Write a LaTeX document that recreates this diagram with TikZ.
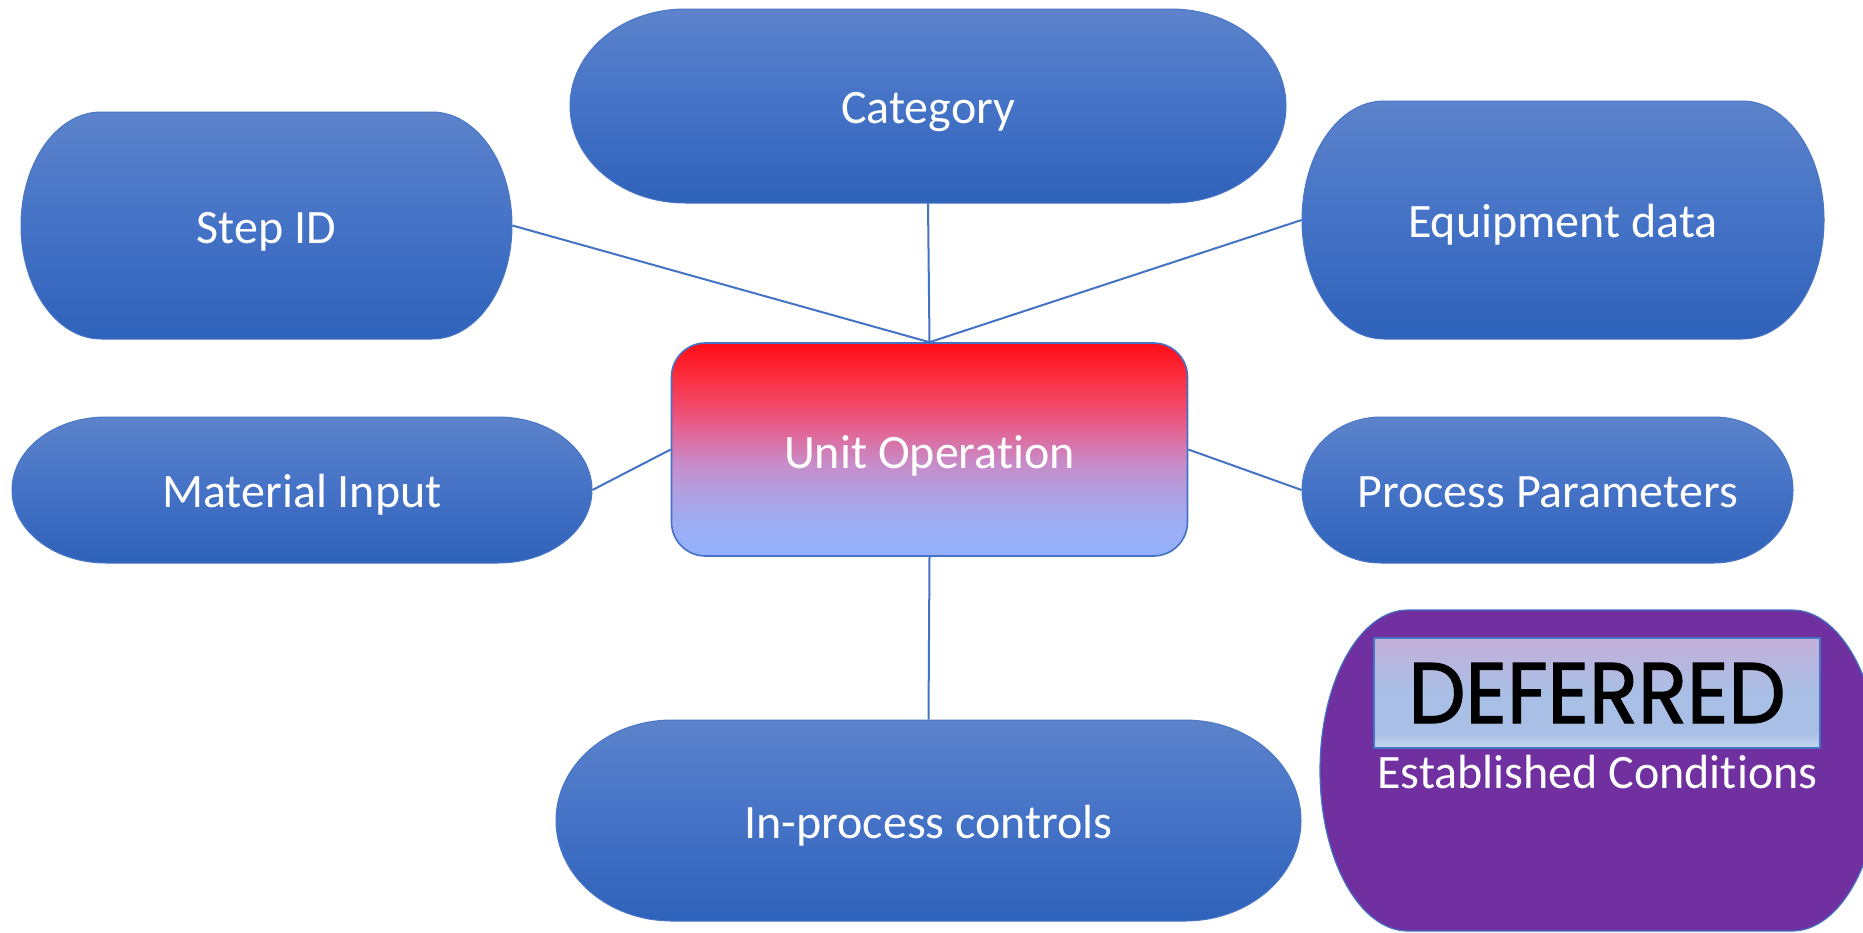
\documentclass[tikz,border=0pt]{standalone}
\usepackage{fontspec}
\setmainfont{Carlito}[Ligatures=NoCommon]
\newfontfamily\deffont{Poppins}[FakeBold=1.5]
\usetikzlibrary{calc}
\definecolor{tbA}{HTML}{5C83CB}
\definecolor{tbB}{HTML}{4472C6}
\definecolor{tbC}{HTML}{2F62BA}
\definecolor{tbline}{HTML}{4A76C6}
\definecolor{conncol}{HTML}{4472C4}
\definecolor{purp}{HTML}{7030A0}
\definecolor{uo1}{HTML}{94AFFB}
\definecolor{uo2}{HTML}{9BAEF4}
\definecolor{uo3}{HTML}{B19FE0}
\definecolor{uo4}{HTML}{C88BC8}
\definecolor{uo5}{HTML}{DE6C9E}
\definecolor{uo6}{HTML}{F04A6C}
\definecolor{uo7}{HTML}{FC2A3A}
\definecolor{uo8}{HTML}{FF0D18}
\definecolor{dfA}{HTML}{C4AED8}
\definecolor{dfB}{HTML}{B5B8E0}
\definecolor{dfC}{HTML}{A9BFE5}
\definecolor{dfD}{HTML}{C8D8EF}
\pgfdeclareverticalshading{uoshade}{100bp}{color(0bp)=(uo1); color(25bp)=(uo1); color(32bp)=(uo2); color(40bp)=(uo3); color(47bp)=(uo4); color(53bp)=(uo5); color(60bp)=(uo6); color(68bp)=(uo7); color(75bp)=(uo8); color(100bp)=(uo8)}
\pgfdeclareverticalshading{dfshade}{100bp}{color(0bp)=(dfD); color(25bp)=(dfD); color(32bp)=(dfC); color(50bp)=(dfC); color(62bp)=(dfB); color(75bp)=(dfA); color(100bp)=(dfA)}
\tikzset{
  termfill/.style={draw=tbline, line width=0.5pt, top color=tbA, bottom color=tbC, middle color=tbB},
  termtext/.style={inner sep=0pt, text=white, font=\fontsize{24pt}{28pt}\selectfont, text height=20pt, text depth=2.5pt},
  uobox/.style={draw=conncol, line width=0.8pt, rounded corners=17pt, shading=uoshade, inner sep=0pt, text=white, font=\fontsize{24pt}{28pt}\selectfont, text height=21pt, text depth=2pt},
  conn/.style={draw=conncol, line width=1pt},
  purpfill/.style={fill=purp, draw=conncol, line width=0.6pt},
  deferbox/.style={draw=conncol, line width=1pt, shading=dfshade, inner sep=0pt},
}
% #1 cx, #2 cy (px, downwards), #3 width, #4 height, #5 cap width, #6 style
\newcommand{\termpath}[6]{%
  \path[#6] ({#1-#3/2+#5},{-#2+#4/2}) -- ({#1+#3/2-#5},{-#2+#4/2})
    arc[start angle=90,end angle=-90,x radius={#5*0.5pt},y radius={#4*0.25pt}]
    -- ({#1-#3/2+#5},{-#2-#4/2})
    arc[start angle=270,end angle=90,x radius={#5*0.5pt},y radius={#4*0.25pt}] -- cycle;}
\newcommand{\termnode}[7]{%
  \termpath{#2}{#3}{#4}{#5}{#6}{termfill}
  \node[termtext, minimum width={#4*0.5pt}, minimum height={#5*0.5pt}] (#1) at (#2,-#3) {#7};}
\begin{document}
\begin{tikzpicture}[x=0.5pt,y=0.5pt]
\useasboundingbox (0,0) rectangle (1863,-932);
\termnode{cat}{928}{106}{716}{194}{115}{Category}
\termnode{stepid}{266.5}{225.5}{491}{227}{80}{Step ID}
\termnode{equip}{1563}{220}{522}{238}{82}{Equipment data}
\termnode{matin}{302}{490}{580}{146}{94}{Material Input}
\termnode{proc}{1547.5}{490}{491}{146}{79}{Process Parameters}
\termnode{inproc}{928.5}{820.5}{745}{201}{116}{In-process controls}
\node[uobox, minimum width=258pt, minimum height=106.5pt] (uo) at (929.5,-449.5) {Unit Operation};
\draw[conn] (stepid.east) -- (uo.north);
\draw[conn] (cat.south) -- (uo.north);
\draw[conn] (equip.west) -- (uo.north);
\draw[conn] (matin.east) -- (uo.west);
\draw[conn] (uo.east) -- (proc.west);
\draw[conn] (uo.south) -- (inproc.north);
\begin{scope}
\clip (0,0) rectangle (1863,-932);
\termpath{1600}{770.5}{560}{321}{88}{purpfill}
\end{scope}
\node[deferbox, minimum width=223pt, minimum height=55pt] (def) at (1597,-693) {\resizebox{188.5pt}{30pt}{\deffont DEFERRED}};
\node[anchor=base, inner sep=0pt, text=white, font=\fontsize{24pt}{28pt}\selectfont] (ec) at (1597.5,-788) {Established Conditions};
\end{tikzpicture}
\end{document}
